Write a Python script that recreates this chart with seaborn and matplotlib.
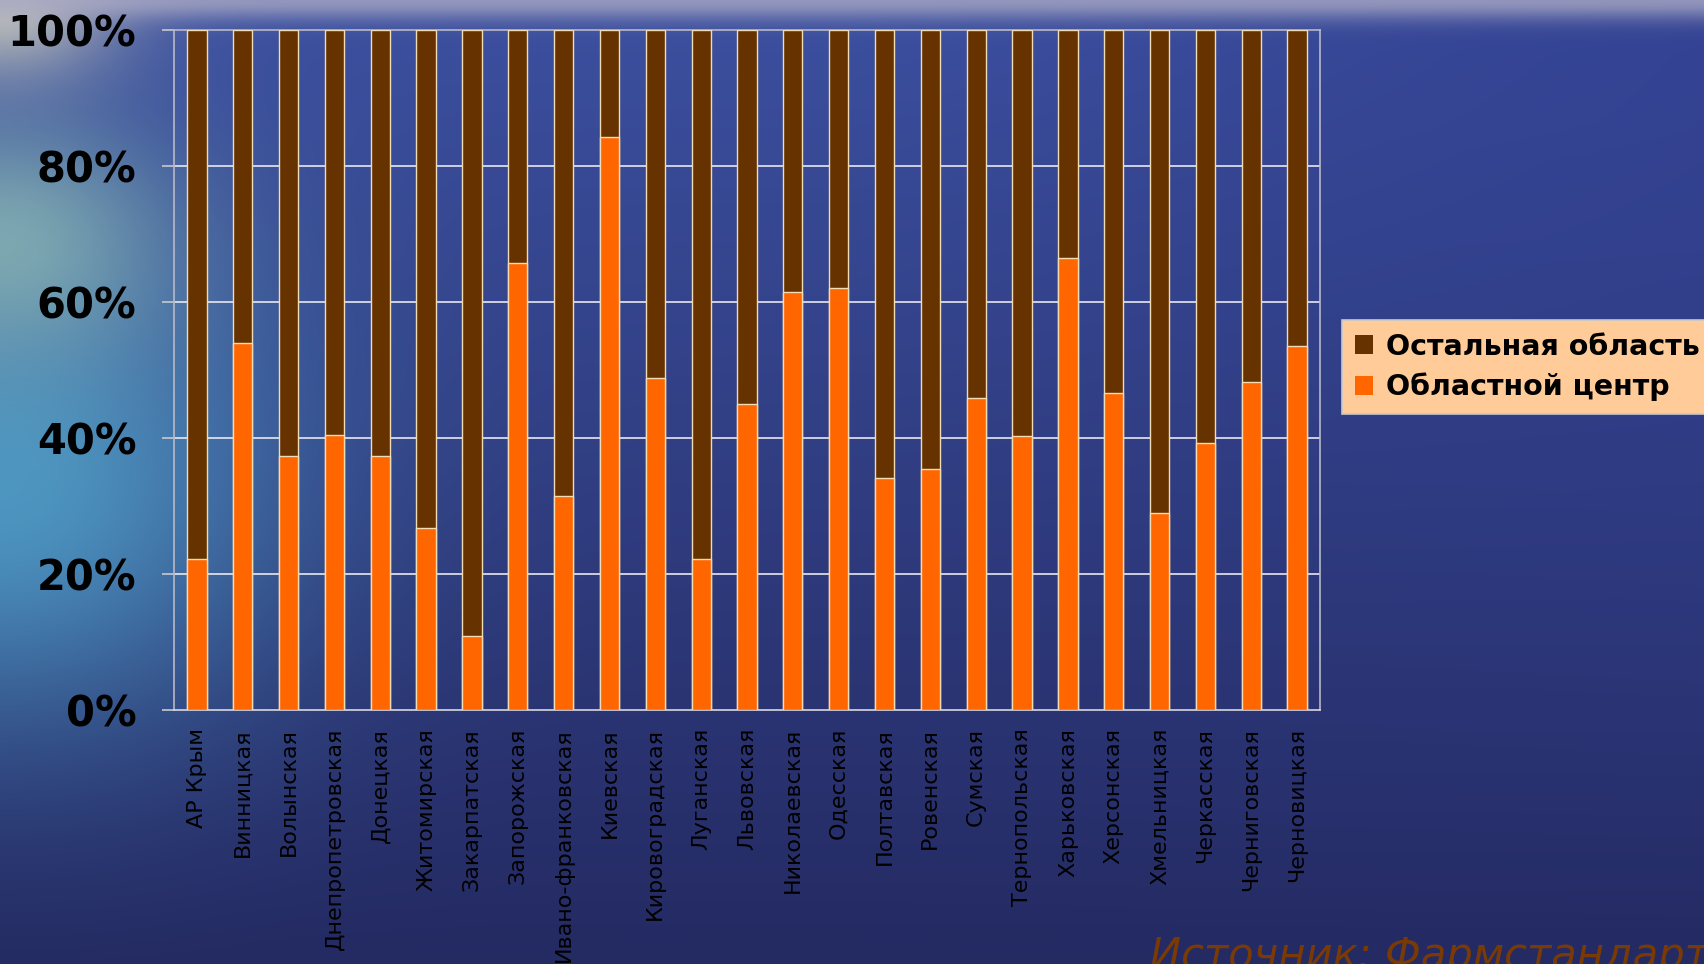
import numpy as np
import pandas as pd
import matplotlib
matplotlib.use('Agg')
import matplotlib.pyplot as plt
import matplotlib.patches as mpatches
from matplotlib.ticker import FixedLocator
import seaborn as sns

# Share of the regional centre in each oblast, percent
regions = ['АР Крым', 'Винницкая', 'Волынская', 'Днепропетровская', 'Донецкая',
           'Житомирская', 'Закарпатская', 'Запорожская', 'Ивано-франковская',
           'Киевская', 'Кировоградская', 'Луганская', 'Львовская', 'Николаевская',
           'Одесская', 'Полтавская', 'Ровенская', 'Сумская', 'Тернопольская',
           'Харьковская', 'Херсонская', 'Хмельницкая', 'Черкасская',
           'Черниговская', 'Черновицкая']
center_share = [22.2, 53.9, 37.3, 40.5, 37.3, 26.7, 10.9, 65.8, 31.5, 84.3,
                48.8, 22.2, 45.0, 61.4, 62.1, 34.1, 35.4, 45.9, 40.3, 66.4,
                46.6, 29.0, 39.2, 48.2, 53.6]
rest_share = [100 - v for v in center_share]
series_names = ['Остальная область', 'Областной центр']
y_ticks = [0, 20, 40, 60, 80, 100]

df = pd.DataFrame({'region': regions, 'center': center_share, 'rest': rest_share})
df['total'] = df['center'] + df['rest']

sns.set_style('white')
plt.rcParams['font.family'] = ['DejaVu Sans']

fig = plt.figure(figsize=(17.04, 9.64), dpi=100)

# ocean-like backdrop, built as a smooth gradient
H, W = 964, 1704
v, u = np.mgrid[0:1:H * 1j, 0:1:W * 1j]
top = np.array([0x3c, 0x50, 0xa0]) / 255
bot = np.array([0x24, 0x2a, 0x62]) / 255
img = top[None, None, :] * (1 - v[..., None]) + bot[None, None, :] * v[..., None]
right_dark = np.array([0x2c, 0x36, 0x88]) / 255
wr = np.clip((u - 0.5) / 0.5, 0, 1)[..., None] * (1 - v[..., None]) * 0.5
img = img * (1 - wr) + right_dark * wr
cyan = np.array([0x50, 0xa0, 0xc8]) / 255
wc = (np.exp(-(u / 0.16) ** 2) * np.exp(-((v - 0.5) / 0.25) ** 2))[..., None] * 0.9
img = img * (1 - wc) + cyan * wc
green = np.array([0x8c, 0xb8, 0xb4]) / 255
wg = (np.exp(-(u / 0.1) ** 2) * np.exp(-((v - 0.25) / 0.13) ** 2))[..., None] * 0.8
img = img * (1 - wg) + green * wg
beige = np.array([0xcc, 0xcc, 0xbc]) / 255
wb = (np.exp(-(u / 0.07) ** 2) * np.exp(-(v / 0.08) ** 2))[..., None] * 0.9
img = img * (1 - wb) + beige * wb
haze = np.array([0xa8, 0xa8, 0xc4]) / 255
wh = np.exp(-(v / 0.02) ** 2)[..., None] * 0.8
img = img * (1 - wh) + haze * wh

bg = fig.add_axes([0, 0, 1, 1], zorder=-10)
bg.imshow(np.clip(img, 0, 1), aspect='auto', extent=[0, 1, 0, 1])
bg.axis('off')

ax = fig.add_axes([174 / 1704, 1 - 710 / 964, (1320 - 174) / 1704, 680 / 964])
ax.set_facecolor('none')

sns.barplot(data=df, x='region', y='total', color='#663300', width=0.42,
            edgecolor='#f2dcb4', linewidth=1.0, saturation=1, ax=ax, zorder=3)
sns.barplot(data=df, x='region', y='center', color='#ff6600', width=0.42,
            edgecolor='#f2dcb4', linewidth=1.0, saturation=1, ax=ax, zorder=4)

ax.set_ylim(0, 100)
ax.set_xlim(-0.5, len(regions) - 0.5)
ax.set_yticks(y_ticks)
ax.set_yticklabels([f'{t}%' for t in y_ticks], fontsize=30, fontweight='bold', color='black')
ax.set_xlabel('')
ax.set_ylabel('')
ax.set_xticks(range(len(regions)))
ax.set_xticklabels(regions, rotation=90, fontsize=16, color='black', va='top')
ax.xaxis.set_minor_locator(FixedLocator(np.arange(-0.5, len(regions), 1)))
ax.tick_params(axis='x', which='major', length=0, pad=13)
ax.tick_params(axis='x', which='minor', length=6, width=1.2, color='#c8c8d0', direction='out')
ax.tick_params(axis='y', which='major', length=9, width=1.2, color='#c8c8d0', pad=18,
               direction='out', left=True)

for y in y_ticks[1:-1]:
    ax.axhline(y, color='#e8e8f0', linewidth=1.2, zorder=1)
for side in ['left', 'right', 'top', 'bottom']:
    ax.spines[side].set_visible(True)
    ax.spines[side].set_color('#b8b8c8')
    ax.spines[side].set_linewidth(1.2)
ax.spines['bottom'].set_color('#d8d8e0')

handles = [mpatches.Patch(facecolor='#663300', edgecolor='none', label=series_names[0]),
           mpatches.Patch(facecolor='#ff6600', edgecolor='none', label=series_names[1])]
leg = fig.legend(handles=handles, loc='upper left',
                 bbox_to_anchor=(1342 / 1704, 1 - 320 / 964),
                 prop={'size': 20.5, 'weight': 'bold'}, frameon=True, fancybox=False,
                 facecolor='#ffcc99', edgecolor='#c8c8c8', framealpha=1,
                 labelcolor='black',
                 handlelength=0.65, handleheight=0.65, handletextpad=0.45,
                 labelspacing=0.42, borderpad=0.45, borderaxespad=0)
leg.get_frame().set_linewidth(1.2)

fig.text(1150 / 1704, 1 - 968 / 964, 'Источник: Фармстандарт', fontsize=30,
         style='italic', color='#7a3a06', ha='left', va='baseline')

fig.savefig('out.png', dpi=100)
